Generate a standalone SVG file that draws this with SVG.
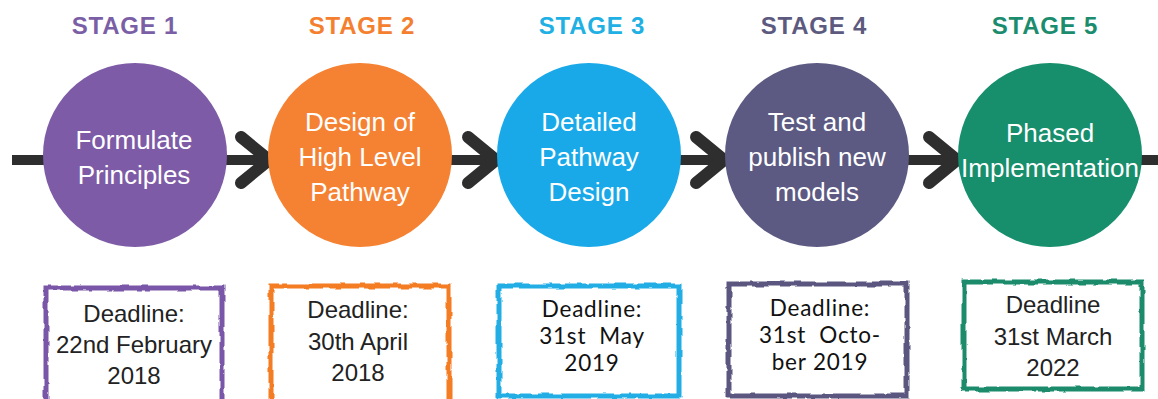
<svg xmlns="http://www.w3.org/2000/svg" width="1158" height="399" viewBox="0 0 1158 399">
  <defs>
    <!-- rough brush edge for the deadline frames -->
    <filter id="rough" x="-5%" y="-5%" width="110%" height="110%">
      <feTurbulence type="fractalNoise" baseFrequency="0.09" numOctaves="2" seed="4" result="n"/>
      <feDisplacementMap in="SourceGraphic" in2="n" scale="4" xChannelSelector="R" yChannelSelector="G"/>
    </filter>
    <path id="chev" d="M-28,-23 L0,0 L-28,23" fill="none" stroke="#2e2e2e" stroke-width="12" stroke-linecap="round" stroke-linejoin="round"/>
  </defs>
  <style>
    .title { font-family: "Liberation Sans", Arial, sans-serif; font-weight: bold; font-size: 24px; letter-spacing: 0.8px; text-anchor: middle; }
    .inner { font-family: "Liberation Sans", Arial, sans-serif; font-size: 26px; fill: #ffffff; text-anchor: middle; }
    .frame { fill: #ffffff; stroke-width: 5; filter: url(#rough); }
    .dl { font-family: "Liberation Sans", Arial, sans-serif; font-size: 24px; fill: #222222; text-anchor: middle; }
    .dl2 { font-family: Lato, "Open Sans", sans-serif; font-size: 22.5px; letter-spacing: 0.8px; fill: #111111; text-anchor: middle; }
  </style>
  <rect width="1158" height="399" fill="#ffffff"/>

  <!-- timeline axis and chevrons -->
  <g id="connectors">
    <line x1="12" y1="160" x2="1158" y2="160" stroke="#2e2e2e" stroke-width="10"/>
    <use href="#chev" x="269" y="160"/>
    <use href="#chev" x="496" y="160"/>
    <use href="#chev" x="724" y="160"/>
    <use href="#chev" x="957" y="160"/>
  </g>

  <g id="stage1">
    <text class="title" x="125" y="34" fill="#7b5fa6">STAGE 1</text>
    <circle cx="135" cy="155" r="92" fill="#7d5ba6"/>
    <text class="inner" x="134" y="149">Formulate</text>
    <text class="inner" x="134" y="184">Principles</text>
    <rect class="frame" x="46" y="288" width="176" height="116" stroke="#7a56a8"/>
    <text class="dl" x="134" y="322">Deadline:</text>
    <text class="dl" x="134" y="353">22nd February</text>
    <text class="dl" x="134" y="384">2018</text>
  </g>

  <g id="stage2">
    <text class="title" x="362" y="34" fill="#f4802f">STAGE 2</text>
    <circle cx="360" cy="155" r="92" fill="#f58233"/>
    <text class="inner" x="360" y="131">Design of</text>
    <text class="inner" x="360" y="166">High Level</text>
    <text class="inner" x="360" y="201">Pathway</text>
    <rect class="frame" x="271" y="286" width="178" height="118" stroke="#f47b20"/>
    <text class="dl" x="358" y="318">Deadline:</text>
    <text class="dl" x="358" y="350">30th April</text>
    <text class="dl" x="358" y="381">2018</text>
  </g>

  <g id="stage3">
    <text class="title" x="592" y="34" fill="#20b0e3">STAGE 3</text>
    <circle cx="589" cy="155" r="92" fill="#1aa9e8"/>
    <text class="inner" x="589" y="131">Detailed</text>
    <text class="inner" x="589" y="166">Pathway</text>
    <text class="inner" x="589" y="201">Design</text>
    <rect class="frame" x="499" y="286" width="180" height="110" stroke="#20aee5"/>
    <text class="dl2" x="592" y="317" xml:space="preserve">Deadline:</text>
    <text class="dl2" x="592" y="344" xml:space="preserve">31st  May</text>
    <text class="dl2" x="592" y="371" xml:space="preserve">2019</text>
  </g>

  <g id="stage4">
    <text class="title" x="814" y="34" fill="#5d5a80">STAGE 4</text>
    <circle cx="817" cy="155" r="92" fill="#5c5a82"/>
    <text class="inner" x="817" y="131">Test and</text>
    <text class="inner" x="817" y="166">publish new</text>
    <text class="inner" x="817" y="201">models</text>
    <rect class="frame" x="729" y="284" width="178" height="112" stroke="#5a5680"/>
    <text class="dl2" x="820" y="316" xml:space="preserve">Deadline:</text>
    <text class="dl2" x="820" y="343" xml:space="preserve">31st  Octo-</text>
    <text class="dl2" x="820" y="370" xml:space="preserve">ber 2019</text>
  </g>

  <g id="stage5">
    <text class="title" x="1045" y="34" fill="#1b8c6e">STAGE 5</text>
    <circle cx="1050" cy="155" r="92" fill="#178e6c"/>
    <text class="inner" x="1050" y="142">Phased</text>
    <text class="inner" x="1050" y="177">Implementation</text>
    <rect class="frame" x="964" y="282" width="178" height="107" stroke="#1c8b6c"/>
    <text class="dl" x="1053" y="313">Deadline</text>
    <text class="dl" x="1053" y="345">31st March</text>
    <text class="dl" x="1053" y="376">2022</text>
  </g>
</svg>
